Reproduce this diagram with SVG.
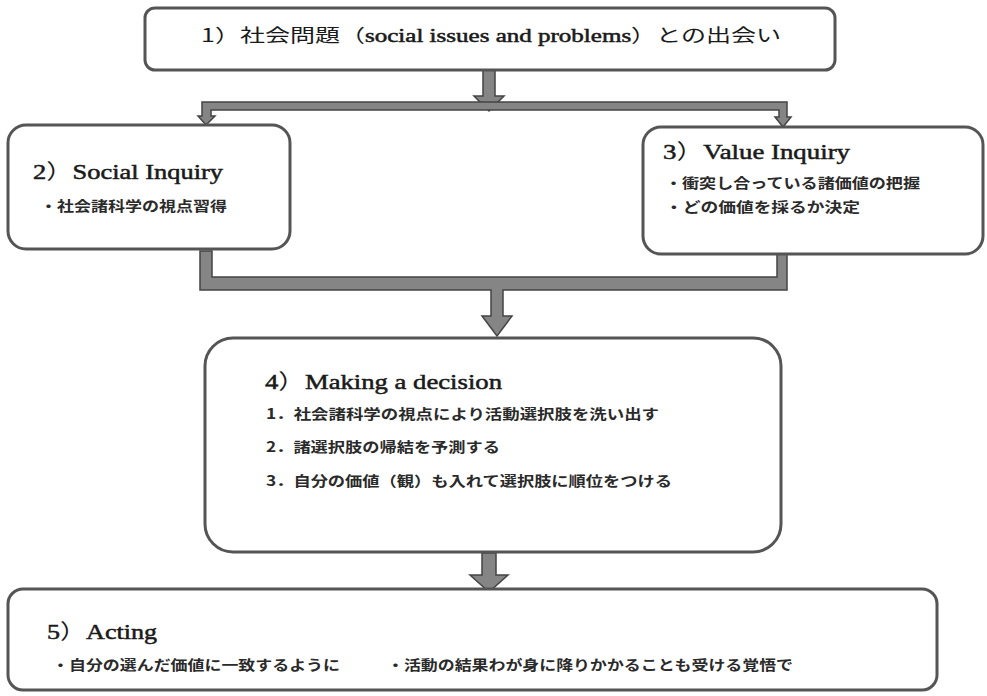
<svg xmlns="http://www.w3.org/2000/svg" width="987" height="696" viewBox="0 0 987 696">
<style>
.box{fill:#fff;stroke:#555;stroke-width:3}
.conn{fill:#858585;stroke:#444;stroke-width:1.5;stroke-linejoin:miter}
.lat{font-family:'Liberation Serif','Times New Roman','DejaVu Serif',serif;stroke:#1a1a1a;stroke-width:0.5}
.cjk{font-family:'Noto Sans CJK JP','Noto Sans CJK SC',sans-serif}
.head{font-size:21px;fill:#1a1a1a}
.jp{font-family:'Noto Sans CJK JP','Noto Sans CJK SC',sans-serif;font-size:14px;font-weight:bold;fill:#2a2a2a}
.title{font-size:18px;fill:#1a1a1a}
</style>
<rect width="987" height="696" fill="#fff"/>
<g id="connectors">
<polygon class="conn" points="483,69 495,69 495,96 504,96 489,111 474,96 483,96"/>
<polygon class="conn" points="202,102 787,102 787,117 791,117 783,127 775,117 779,117 779,110 211,110 211,116 215,116 206,125 198,116 202,116"/>
<polygon class="conn" points="200,251 212,251 212,277 777,277 777,254 787,254 787,290 503,290 503,316 512,316 497,336 482,316 491,316 491,290 200,290"/>
<polygon class="conn" points="482,553 496,553 496,575 508,575 489,592 470,575 482,575"/>
</g>
<g id="node1">
<rect class="box" x="145" y="8" width="690" height="62" rx="10"/>
<text class="title" x="201" y="42" textLength="580" lengthAdjust="spacingAndGlyphs"><tspan class="cjk">1）社会問題（</tspan><tspan class="lat">social issues and problems</tspan><tspan class="cjk">）との出会い</tspan></text>
</g>
<g id="node2">
<rect class="box" x="8" y="125" width="282" height="124" rx="18"/>
<text class="head" x="33" y="179" textLength="190" lengthAdjust="spacingAndGlyphs"><tspan class="lat">2</tspan><tspan class="cjk">）</tspan><tspan class="lat">Social Inquiry</tspan></text>
<text class="jp" x="40" y="211" textLength="187" lengthAdjust="spacingAndGlyphs">・社会諸科学の視点習得</text>
</g>
<g id="node3">
<rect class="box" x="643" y="127" width="340" height="127" rx="18"/>
<text class="head" x="663" y="159" textLength="187" lengthAdjust="spacingAndGlyphs"><tspan class="lat">3</tspan><tspan class="cjk">）</tspan><tspan class="lat">Value Inquiry</tspan></text>
<text class="jp" x="665" y="188" textLength="255" lengthAdjust="spacingAndGlyphs">・衝突し合っている諸価値の把握</text>
<text class="jp" x="665" y="212" textLength="195" lengthAdjust="spacingAndGlyphs">・どの価値を採るか決定</text>
</g>
<g id="node4">
<rect class="box" x="205" y="338" width="576" height="214" rx="28"/>
<text class="head" x="265" y="389" textLength="237" lengthAdjust="spacingAndGlyphs"><tspan class="lat">4</tspan><tspan class="cjk">）</tspan><tspan class="lat">Making a decision</tspan></text>
<text class="jp" x="266" y="419" textLength="393" lengthAdjust="spacingAndGlyphs">1．社会諸科学の視点により活動選択肢を洗い出す</text>
<text class="jp" x="266" y="452" textLength="234" lengthAdjust="spacingAndGlyphs">2．諸選択肢の帰結を予測する</text>
<text class="jp" x="266" y="486" textLength="406" lengthAdjust="spacingAndGlyphs">3．自分の価値（観）も入れて選択肢に順位をつける</text>
</g>
<g id="node5">
<rect class="box" x="8" y="589" width="929" height="101" rx="15"/>
<text class="head" x="47" y="639" textLength="110" lengthAdjust="spacingAndGlyphs"><tspan class="lat">5</tspan><tspan class="cjk">）</tspan><tspan class="lat">Acting</tspan></text>
<text class="jp" x="52" y="670" textLength="288" lengthAdjust="spacingAndGlyphs">・自分の選んだ価値に一致するように</text>
<text class="jp" x="387" y="670" textLength="406" lengthAdjust="spacingAndGlyphs">・活動の結果わが身に降りかかることも受ける覚悟で</text>
</g>
</svg>
